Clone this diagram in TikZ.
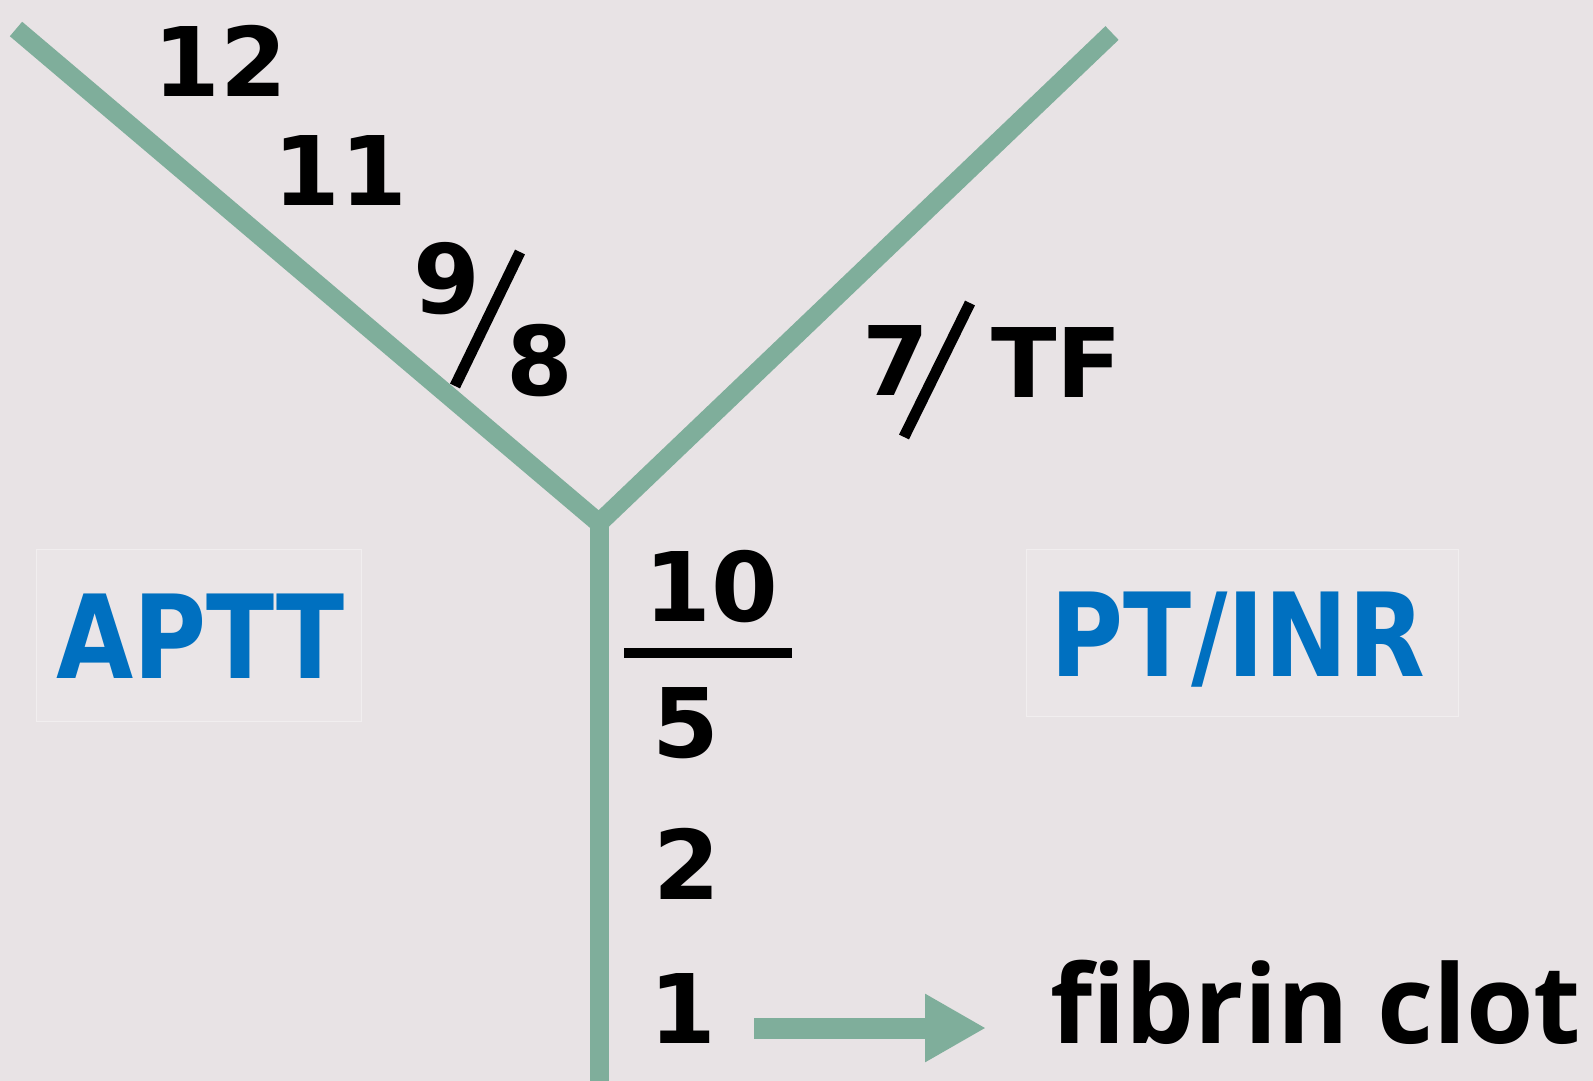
\documentclass[tikz,border=0pt]{standalone}
\usepackage{fontspec}
\setmainfont{DejaVu Sans}
\newfontfamily\numfont{DejaVu Sans Bold}
\newfontfamily\clotfont{Open Sans Bold}
\newfontfamily\labelfont{DejaVu Sans Bold}[FakeStretch=0.86]
\usetikzlibrary{arrows.meta}
\definecolor{bgcol}{HTML}{E8E3E5}
\definecolor{sage}{HTML}{7FAE9B}
\definecolor{testblue}{HTML}{0070C0}
\begin{document}
\begin{tikzpicture}[x=1pt,y=-1pt,
  branch/.style={draw=sage,line width=19pt},
  factor/.style={font=\numfont\fontsize{96}{96}\selectfont,inner sep=0pt,text=black},
  slashline/.style={draw=black,line width=11pt},
  testname/.style={font=\labelfont\fontsize{116}{116}\selectfont,text=testblue,inner sep=0pt},
  testbox/.style={draw=white!40!bgcol,fill=white!8!bgcol,line width=1pt}]
  \fill[bgcol] (0,0) rectangle (1593,1081);
  \useasboundingbox (0,0) rectangle (1593,1081);

  % test panels
  \filldraw[testbox] (36,549) rectangle (361,721);
  \filldraw[testbox] (1026,549) rectangle (1458,716);
  \node[testname,anchor=base west] (aptt) at (56,678) {APTT};
  \node[testname,anchor=base west] (ptinr) at (1050,676) {PT/INR};

  % the Y of the cascade
  \coordinate (tl) at (16,29);
  \coordinate (tr) at (1112,33);
  \coordinate (j) at (599,523);
  \coordinate (bot) at (599,1081);
  \draw[branch,line join=miter] (tl) -- (j) -- (tr);
  \draw[branch] (j) -- (bot);

  % intrinsic arm
  \node[factor] (f12) at (220,61) {12};
  \node[factor] (f11) at (340,171) {11};
  \node[factor] (f9) at (447,279) {9};
  \node[factor] (f8) at (540,361) {8};
  \coordinate (s98a) at (455,386);
  \coordinate (s98b) at (520,252);
  \draw[slashline] (s98a) -- (s98b);

  % extrinsic arm
  \node[factor] (f7) at (896,361) {7};
  \node[factor] (tf) at (1057,363) {TF};
  \coordinate (s7a) at (904,437);
  \coordinate (s7b) at (970,303);
  \draw[slashline] (s7a) -- (s7b);

  % common pathway
  \node[factor] (f10) at (711,587) {10};
  \coordinate (barl) at (624,653);
  \coordinate (barr) at (792,653);
  \draw[draw=black,line width=10pt] (barl) -- (barr);
  \node[factor] (f5) at (686,723) {5};
  \node[factor] (f2) at (687,864) {2};
  \node[factor] (f1) at (683,1008) {1};

  \node[font=\clotfont\fontsize{109}{109}\selectfont,inner sep=0pt,anchor=base west] (clot) at (1050,1043) {fibrin clot};
  \coordinate (arrs) at (754,1028);
  \coordinate (arre) at (986,1028);
  \draw[draw=sage,line width=21pt,-{Triangle[length=61pt,width=64pt]}] (arrs) -- (arre);
\end{tikzpicture}
\end{document}
